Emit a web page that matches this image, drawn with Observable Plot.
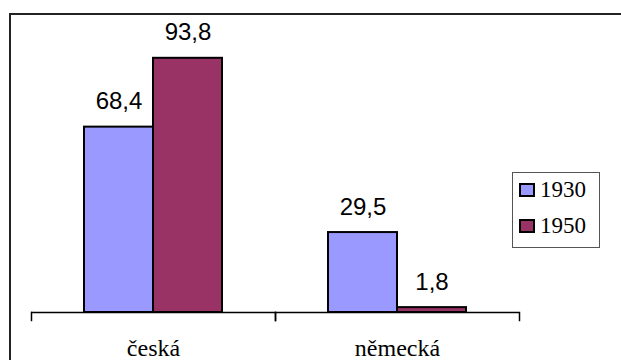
<!DOCTYPE html>
<html>
<head>
<meta charset="utf-8">
<script src="https://cdn.jsdelivr.net/npm/d3@7"></script>
<script src="https://cdn.jsdelivr.net/npm/@observablehq/plot@0.6"></script>
<style>
  html, body { margin: 0; padding: 0; background: #fff; overflow: hidden; }
  #wrap { position: relative; width: 621px; height: 360px; }
  #border {
    position: absolute; left: 9px; top: 13px; width: 700px; height: 500px;
    border-left: 2px solid #222; border-top: 2px solid #222;
  }
  #legend {
    position: absolute; left: 512px; top: 172px; width: 86px; height: 74px;
    border: 1px solid #555; background: #fff;
    font-family: "Liberation Serif", "Times New Roman", serif; font-size: 23px; color: #000;
  }
  .item { position: absolute; left: 6px; display: flex; align-items: center; }
  .sw { width: 12px; height: 10px; border: 2px solid #000; margin-right: 5px; }
</style>
</head>
<body>
<div id="wrap">
  <div id="border"></div>
  <div id="chart"></div>
  <div id="legend"></div>
</div>
<script>
// Share of population by nationality, 1930 vs 1950
const categories = ["česká", "německá"];
const years = ["1930", "1950"];
const values1930 = [68.4, 29.5];
const values1950 = [93.8, 1.8];
const colors = ["#9999ff", "#993366"];

const rows = [];
categories.forEach((c, i) => {
  rows.push({category: c, year: years[0], value: values1930[i]});
  rows.push({category: c, year: years[1], value: values1950[i]});
});

const fmt = v => String(v).replace(".", ",");

const chart = Plot.plot({
  width: 621,
  height: 360,
  marginTop: 41,
  marginBottom: 48,
  marginLeft: 30,
  marginRight: 102,
  style: {background: "transparent", overflow: "visible"},
  fx: {domain: categories, padding: 0, label: null},
  x: {domain: years, paddingInner: 0, paddingOuter: 0.75, axis: null},
  y: {domain: [0, 100], axis: null},
  color: {domain: years, range: colors},
  marks: [
    Plot.barY(rows, {fx: "category", x: "year", y: "value", fill: "year", stroke: "#000", strokeWidth: 2}),
    Plot.ruleY([0], {stroke: "#000", strokeWidth: 1.5}),
    // category boundary ticks below the axis line
    Plot.frame({anchor: "left", insetTop: 271, insetBottom: -8, stroke: "#000", strokeWidth: 1.5}),
    Plot.frame({anchor: "right", insetTop: 271, insetBottom: -8, stroke: "#000", strokeWidth: 1.5}),
    Plot.text(rows, {
      fx: "category", x: "year", y: "value",
      text: d => fmt(d.value),
      dy: -18, lineAnchor: "bottom",
      fontSize: 24, fontFamily: "'Liberation Sans', Arial, sans-serif", fill: "#000"
    }),
    Plot.axisFx({
      anchor: "bottom", tickSize: 0, tickPadding: 26, label: null,
      fontSize: 24, fontFamily: "'Liberation Serif', 'Times New Roman', serif", fill: "#000"
    })
  ]
});
document.getElementById("chart").append(chart);

// legend
const legend = document.getElementById("legend");
years.forEach((y, i) => {
  const item = document.createElement("div");
  item.className = "item";
  item.style.top = (i === 0 ? 4 : 40) + "px";
  const sw = document.createElement("span");
  sw.className = "sw";
  sw.style.background = colors[i];
  const t = document.createElement("span");
  t.textContent = y;
  item.append(sw, t);
  legend.append(item);
});
</script>
</body>
</html>
